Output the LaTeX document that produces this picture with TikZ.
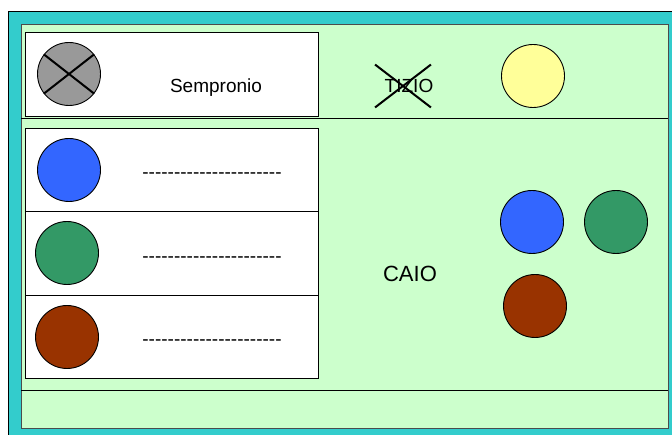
\documentclass[tikz,border=0pt]{standalone}
\usepackage{fontspec}
\setmainfont{Liberation Sans}
\definecolor{frameteal}{HTML}{33CCCC}
\definecolor{fieldgreen}{HTML}{CCFFCC}
\definecolor{tokengray}{HTML}{999999}
\definecolor{tokenyellow}{HTML}{FFFF99}
\definecolor{tokenblue}{HTML}{3366FF}
\definecolor{tokengreen}{HTML}{339966}
\definecolor{tokenbrown}{HTML}{993300}
\newcommand{\dashrow}{-{}-{}-{}-{}-{}-{}-{}-{}-{}-{}-{}-{}-{}-{}-{}-{}-{}-{}-{}-{}-{}-}
\begin{document}
\begin{tikzpicture}[x=1pt, y=-1pt, line width=0.9pt,
    token/.style={circle, draw, minimum size=63pt, inner sep=0pt},
    txt/.style={font=\fontsize{19}{23}\selectfont, text height=13.6pt, text depth=0pt, inner sep=0pt},
    cross/.style={line width=2pt}]
    \clip (0, 0) rectangle (672, 435);
    %%draw the frame
    \draw[fill=frameteal] (8, 11) rectangle (690, 450);
    \draw[fill=fieldgreen, draw=black!70] (21, 24) rectangle (668, 428);
    \draw(21, 118) to (668, 118);
    \draw(21, 390) to (668, 390);

    %%draw the top row
    \draw[fill=white] (25, 32) rectangle (318, 116);
        \node[token, fill=tokengray] (sem) at (69, 74){};
        \draw[cross] (sem.142) to (sem.322);
        \draw[cross] (sem.38) to (sem.218);
        \node[txt] (sempronio) at (216, 86){Sempronio};
    \node[txt] (tizio) at (409, 86){TIZIO};
        \node[minimum width=55pt, minimum height=42pt, inner sep=0pt] (tiziox) at (403, 86){};
        \draw[cross] (tiziox.north west) to (tiziox.south east);
        \draw[cross] (tiziox.north east) to (tiziox.south west);
    \node[token, fill=tokenyellow] (yellow) at (533, 76){};

    %%draw the lower rows
    \draw[fill=white] (25, 128) rectangle (318, 378);
        \draw(25, 211) to (318, 211);
        \draw(25, 295) to (318, 295);
        \node[token, fill=tokenblue] (blueleft) at (69, 170){};
            \node[txt] (bluedash) at (212, 172){\dashrow};
        \node[token, fill=tokengreen] (greenleft) at (67, 253){};
            \node[txt] (greendash) at (212, 256){\dashrow};
        \node[token, fill=tokenbrown] (brownleft) at (67, 337){};
            \node[txt] (browndash) at (212, 339){\dashrow};

    %%draw the right side
    \node[txt, font=\fontsize{22}{26}\selectfont, text height=15.5pt] (caio) at (410, 274){CAIO};
    \node[token, fill=tokenblue] (blueright) at (532, 222){};
    \node[token, fill=tokengreen] (greenright) at (616, 222){};
    \node[token, fill=tokenbrown] (brownright) at (535, 306){};
\end{tikzpicture}
\end{document}
